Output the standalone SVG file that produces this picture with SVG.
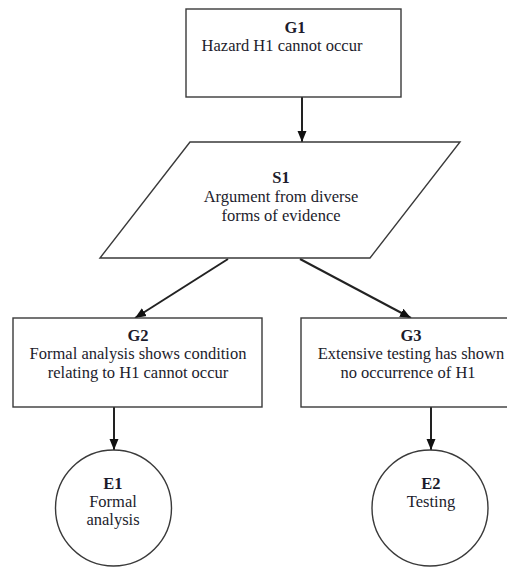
<svg xmlns="http://www.w3.org/2000/svg" width="507" height="567" viewBox="0 0 507 567">
<style>
.shape{fill:#fff;stroke:#3a3a3a;stroke-width:1.4}
.conn{stroke:#222;stroke-width:2;fill:none}
text{font-family:"Liberation Serif","Times New Roman",serif;font-size:16.5px;fill:#1c1c2c;text-anchor:middle}
.id{font-weight:bold}
</style>
<defs>
<marker id="ah" markerUnits="userSpaceOnUse" markerWidth="12" markerHeight="12" viewBox="0 0 12 12" refX="11" refY="6" orient="auto">
<path d="M0,1.5 L11,6 L0,10.5 Z" fill="#111"/>
</marker>
</defs>
<g id="connectors">
<line class="conn" x1="302" y1="97" x2="302" y2="142" marker-end="url(#ah)"/>
<line class="conn" x1="228" y1="259" x2="135" y2="318" marker-end="url(#ah)"/>
<line class="conn" x1="300" y1="259" x2="411" y2="318" marker-end="url(#ah)"/>
<line class="conn" x1="114" y1="407" x2="114" y2="450" marker-end="url(#ah)"/>
<line class="conn" x1="431" y1="407" x2="431" y2="450" marker-end="url(#ah)"/>
</g>
<g id="G1">
<rect class="shape" x="186" y="9" width="215" height="88"/>
<text class="id" x="295" y="33">G1</text>
<text x="282" y="51">Hazard H1 cannot occur</text>
</g>
<g id="S1">
<polygon class="shape" points="190,142 460,142 370,258 100,258"/>
<text class="id" x="281" y="183">S1</text>
<text x="281" y="202">Argument from diverse</text>
<text x="281" y="221">forms of evidence</text>
</g>
<g id="G2">
<rect class="shape" x="13" y="318" width="249" height="89"/>
<text class="id" x="138" y="341">G2</text>
<text x="138" y="359">Formal analysis shows condition</text>
<text x="138" y="378">relating to H1 cannot occur</text>
</g>
<g id="G3">
<rect class="shape" x="301" y="318" width="220" height="89"/>
<text class="id" x="411" y="341">G3</text>
<text x="411" y="359">Extensive testing has shown</text>
<text x="408" y="378">no occurrence of H1</text>
</g>
<g id="E1">
<circle class="shape" cx="113.5" cy="508" r="58"/>
<text class="id" x="113" y="489">E1</text>
<text x="113" y="507">Formal</text>
<text x="113" y="525">analysis</text>
</g>
<g id="E2">
<circle class="shape" cx="430" cy="508" r="58"/>
<text class="id" x="431" y="489">E2</text>
<text x="431" y="507">Testing</text>
</g>
</svg>
